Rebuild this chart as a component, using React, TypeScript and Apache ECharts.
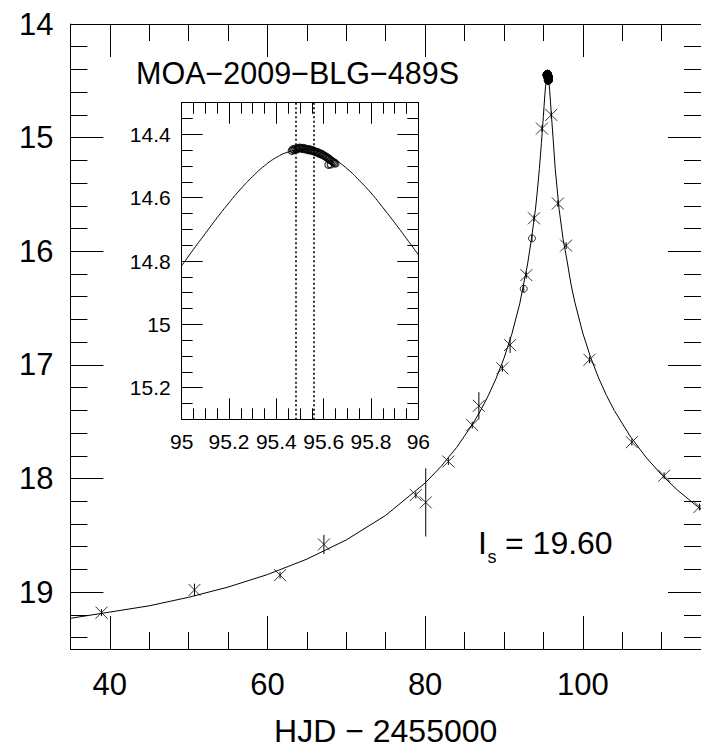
import React, { useEffect, useRef } from 'react';
import * as echarts from 'echarts';

const FONT = '"Liberation Sans", Arial, Helvetica, sans-serif';

// Model light curve (main panel)
const curveT = [35, 40, 45, 50, 55, 60, 65, 70, 75, 80, 82, 84, 86, 87, 88, 89, 90, 91, 92, 93, 93.5, 94, 94.25, 94.5, 94.75, 95, 95.1, 95.2, 95.3, 95.4, 95.52, 95.6, 95.7, 95.8, 95.9, 96, 96.25, 96.5, 96.75, 97, 97.5, 98, 98.5, 99, 100, 101, 102, 103, 104, 106, 108, 110, 112, 115];
const curveMag = [19.23, 19.175, 19.12, 19.045, 18.955, 18.845, 18.709, 18.54, 18.324, 18.039, 17.895, 17.726, 17.524, 17.406, 17.272, 17.12, 16.942, 16.729, 16.463, 16.113, 15.887, 15.63, 15.46, 15.27, 15.05, 14.815, 14.713, 14.616, 14.533, 14.473, 14.447, 14.46, 14.509, 14.585, 14.679, 14.78, 15.02, 15.27, 15.45, 15.63, 15.89, 16.08, 16.288, 16.45, 16.719, 16.934, 17.113, 17.267, 17.401, 17.626, 17.811, 17.967, 18.101, 18.272];

// Crosses (survey data) with error bars
const crossT = [38.95, 50.74, 61.6, 67.16, 78.82, 80.08, 82.95, 85.98, 86.82, 89.8, 90.78, 92.84, 93.81, 94.82, 96.0, 96.84, 97.89, 100.85, 106.23, 110.32, 114.8];
const crossMag = [19.18, 18.98, 18.85, 18.58, 18.145, 18.21, 17.85, 17.53, 17.36, 17.03, 16.825, 16.21, 15.71, 14.92, 14.8, 15.58, 15.95, 16.955, 17.68, 17.975, 18.25];
const crossErr = [0.03, 0.055, 0.03, 0.085, 0.03, 0.3, 0.03, 0.03, 0.12, 0.03, 0.07, 0.03, 0.03, 0.03, 0.03, 0.03, 0.03, 0.03, 0.03, 0.03, 0.03];

// Open circles (second data set)
const circT = [93.56, 92.51];
const circMag = [15.886, 16.33];
const circErr = [0.03, 0.03];

// Peak data (dense circles), shown in the inset and as the blob at the peak
const peakT = [95.465, 95.47, 95.475, 95.48, 95.485, 95.49, 95.495, 95.5, 95.505, 95.51, 95.515, 95.52, 95.525, 95.53, 95.535, 95.54, 95.545, 95.55, 95.555, 95.56, 95.565, 95.57, 95.575, 95.58, 95.585, 95.59, 95.595, 95.6, 95.605, 95.61, 95.615, 95.62, 95.625, 95.63, 95.635, 95.64, 95.645, 95.65, 95.62, 95.63];
const peakMag = [14.452, 14.447, 14.45, 14.445, 14.448, 14.446, 14.443, 14.442, 14.444, 14.446, 14.443, 14.447, 14.445, 14.448, 14.45, 14.447, 14.451, 14.449, 14.453, 14.452, 14.455, 14.457, 14.456, 14.46, 14.462, 14.461, 14.465, 14.466, 14.469, 14.47, 14.474, 14.476, 14.479, 14.482, 14.485, 14.487, 14.49, 14.492, 14.496, 14.495];

// Inset model curve
const insetCurveT = [95.0, 95.05, 95.1, 95.15, 95.2, 95.25, 95.3, 95.35, 95.4, 95.45, 95.517, 95.55, 95.6, 95.65, 95.7, 95.75, 95.8, 95.85, 95.9, 95.95, 96.0];
const insetCurveMag = [14.815, 14.763, 14.713, 14.663, 14.616, 14.572, 14.533, 14.499, 14.473, 14.456, 14.447, 14.449, 14.46, 14.481, 14.509, 14.545, 14.585, 14.631, 14.679, 14.729, 14.78];

// Dotted vertical markers in the inset
const dottedT = [95.482, 95.563];

const title = 'MOA−2009−BLG−489S';
const xName = 'HJD − 2455000';

const LINE = { color: '#000', width: 1 };
const LABEL = { color: '#000', fontFamily: FONT };

function axis(dim: 'x' | 'y', gridIndex: number, position: string, min: number, max: number, tickLen: number, extra: any = {}) {
  const base: any = {
    type: 'value',
    gridIndex,
    position,
    min,
    max,
    splitLine: { show: false },
    axisLine: { show: true, onZero: false, lineStyle: LINE },
    axisTick: { show: true, inside: true, length: tickLen, lineStyle: LINE },
    axisLabel: { show: false },
    minorTick: { show: false },
    minorSplitLine: { show: false },
  };
  if (dim === 'y') base.inverse = true;
  return { ...base, ...extra };
}

export default function App() {
  const ref = useRef<HTMLDivElement>(null);
  useEffect(() => {
    const chart = echarts.init(ref.current!, null, { renderer: 'svg' });

    const curve = curveT.map((t, i) => [t, curveMag[i]]);
    const crosses = crossT.map((t, i) => [t, crossMag[i]]);
    const circles = circT.map((t, i) => [t, circMag[i]]);
    const errs = crossT.map((t, i) => [t, crossMag[i], crossErr[i]]).concat(circT.map((t, i) => [t, circMag[i], circErr[i]]));
    const peak = peakT.map((t, i) => [t, peakMag[i]]);
    const insetCurve = insetCurveT.map((t, i) => [t, insetCurveMag[i]]);

    const xAxis = [
      axis('x', 0, 'bottom', 35, 115, 33, {
        splitNumber: 4,
        axisLabel: { show: true, ...LABEL, fontSize: 31, margin: 19.5, showMinLabel: false, showMaxLabel: false },
        name: xName,
        nameLocation: 'middle',
        nameGap: 66,
        nameTextStyle: { color: '#000', fontFamily: FONT, fontSize: 32 },
      }),
      axis('x', 0, 'bottom', 35, 115, 17, { interval: 5, axisLine: { show: false } }),
      axis('x', 0, 'top', 35, 115, 33, { splitNumber: 4 }),
      axis('x', 0, 'top', 35, 115, 17, { interval: 5, axisLine: { show: false } }),
      axis('x', 1, 'bottom', 95, 96, 21, {
        interval: 0.2,
        axisLabel: { show: true, ...LABEL, fontSize: 21, margin: 12 },
      }),
      axis('x', 1, 'bottom', 95, 96, 11, { interval: 0.05, axisLine: { show: false } }),
      axis('x', 1, 'top', 95, 96, 21, { interval: 0.2 }),
      axis('x', 1, 'top', 95, 96, 11, { interval: 0.05, axisLine: { show: false } }),
    ];

    const yAxis = [
      axis('y', 0, 'left', 14, 19.5, 33, {
        interval: 1,
        axisLabel: { show: true, ...LABEL, fontSize: 31, margin: 17, showMaxLabel: false },
      }),
      axis('y', 0, 'left', 14, 19.5, 17, { interval: 0.2, axisLine: { show: false } }),
      axis('y', 0, 'right', 14, 19.5, 33, { interval: 1 }),
      axis('y', 0, 'right', 14, 19.5, 17, { interval: 0.2, axisLine: { show: false } }),
      axis('y', 1, 'left', 14.3, 15.3, 21, {
        splitNumber: 5,
        axisLabel: { show: true, ...LABEL, fontSize: 21, margin: 11, showMinLabel: false, showMaxLabel: false },
      }),
      axis('y', 1, 'left', 14.3, 15.3, 11, { interval: 0.05, axisLine: { show: false } }),
      axis('y', 1, 'right', 14.3, 15.3, 21, { splitNumber: 5 }),
      axis('y', 1, 'right', 14.3, 15.3, 11, { interval: 0.05, axisLine: { show: false } }),
    ];

    const textStyle = (size: number) => ({ font: `${size}px ${FONT}`, fill: '#000', align: 'left', verticalAlign: 'middle', textAlign: 'left', textVerticalAlign: 'middle' });

    const option: any = {
      animation: false,
      backgroundColor: '#fff',
      textStyle: { fontFamily: FONT },
      grid: [
        { left: 70.4, top: 24, right: -2.75, bottom: 95.5, containLabel: false },
        { left: 181.7, top: 102.7, width: 236.6, height: 316.6, containLabel: false, show: true, backgroundColor: '#fff', borderWidth: 0 },
      ],
      xAxis,
      yAxis,
      graphic: [
        { type: 'text', x: 136, y: 72.5, style: { text: title, ...textStyle(30.5) } },
        { type: 'text', x: 478, y: 543, style: { text: 'I', ...textStyle(32) } },
        { type: 'text', x: 487.5, y: 556.5, style: { text: 's', ...textStyle(18) } },
        { type: 'text', x: 505, y: 543, style: { text: '= 19.60', ...textStyle(32) } },
      ],
      series: [
        {
          type: 'line', xAxisIndex: 0, yAxisIndex: 0, data: curve, symbol: 'none', smooth: false,
          lineStyle: { color: '#000', width: 1 }, silent: true, z: 2,
        },
        {
          type: 'custom', xAxisIndex: 0, yAxisIndex: 0, data: errs, silent: true, z: 3,
          encode: { x: 0, y: 1 },
          renderItem: (params: any, api: any) => {
            const x = api.value(0), y = api.value(1), e = api.value(2);
            const p1 = api.coord([x, y - e]);
            const p2 = api.coord([x, y + e]);
            return { type: 'line', shape: { x1: p1[0], y1: p1[1], x2: p2[0], y2: p2[1] }, style: { stroke: '#000', lineWidth: 1 } };
          },
        },
        {
          type: 'scatter', xAxisIndex: 0, yAxisIndex: 0, data: crosses, symbol: 'path://M0,0L10,10M10,0L0,10', symbolSize: 12,
          itemStyle: { color: 'rgba(0,0,0,0)', borderColor: '#000', borderWidth: 1 }, silent: true, z: 4,
        },
        {
          type: 'scatter', xAxisIndex: 0, yAxisIndex: 0, data: circles, symbol: 'circle', symbolSize: 7,
          itemStyle: { color: 'rgba(0,0,0,0)', borderColor: '#000', borderWidth: 1 }, silent: true, z: 4,
        },
        {
          type: 'scatter', xAxisIndex: 0, yAxisIndex: 0, data: peak, symbol: 'circle', symbolSize: 8,
          itemStyle: { color: '#000', borderColor: '#000', borderWidth: 1 }, silent: true, z: 4,
        },
        {
          type: 'line', xAxisIndex: 4, yAxisIndex: 4, data: insetCurve, symbol: 'none', smooth: true,
          lineStyle: { color: '#000', width: 1 }, silent: true, z: 5,
          markLine: {
            silent: true, symbol: ['none', 'none'], label: { show: false },
            lineStyle: { color: '#000', width: 1.6, type: [2, 2.5] },
            data: dottedT.map((t) => ({ xAxis: t })),
          },
        },
        {
          type: 'scatter', xAxisIndex: 4, yAxisIndex: 4, data: peak, symbol: 'circle', symbolSize: 7,
          itemStyle: { color: 'rgba(0,0,0,0)', borderColor: '#000', borderWidth: 1.2 }, silent: true, z: 6,
        },
      ],
    };

    chart.setOption(option);
    return () => chart.dispose();
  }, []);
  return <div ref={ref} style={{ position: 'absolute', left: 0, top: 0, width: 701, height: 752, background: '#fff' }} />;
}
